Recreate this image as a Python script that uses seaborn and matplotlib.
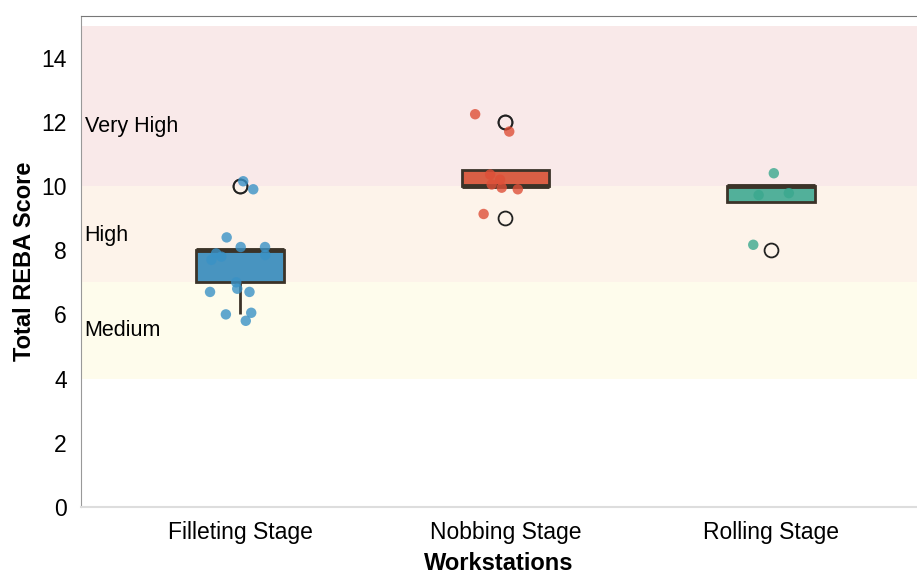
import numpy as np
import pandas as pd
import seaborn as sns
import matplotlib.pyplot as plt

stages = ["Filleting Stage", "Nobbing Stage", "Rolling Stage"]
box_colors = ["#4894c0", "#d95f45", "#52b09a"]
dot_colors = ["#3a92c6", "#de4f38", "#3aa88e"]

# point positions (scores are integers, shown slightly spread)
filleting = [10.15, 9.9, 8.4, 8.1, 8.1, 7.85, 7.9, 7.8, 7.7, 7.0, 6.7, 6.8, 6.7, 6.0, 6.05, 5.8]
nobbing = [12.24, 11.7, 10.36, 10.2, 10.05, 9.9, 9.95, 9.13]
rolling = [10.4, 9.78, 9.72, 8.17]

bands = [(4, 7, "#fefcec", "Medium", 5.5), (7, 10, "#fdf3ea", "High", 8.45),
         (10, 15, "#f9e9e9", "Very High", 11.85)]

df = pd.DataFrame({
    "stage": [stages[0]] * len(filleting) + [stages[1]] * len(nobbing) + [stages[2]] * len(rolling),
    "shown": filleting + nobbing + rolling,
})
df["score"] = df["shown"].round()

plt.rcParams["font.family"] = ["Liberation Sans", "DejaVu Sans"]
fig, ax = plt.subplots(figsize=(9.17, 5.74), dpi=100)

for lo, hi, c, name, ty in bands:
    ax.axhspan(lo, hi, color=c, lw=0, zorder=0)
    ax.text(-0.585, ty, name, fontsize=15.5, va="center", ha="left", zorder=1)

edge = "#3b3328"
sns.boxplot(data=df, x="stage", y="score", hue="stage", palette=box_colors, order=stages,
            width=0.33, linewidth=2, linecolor=edge, legend=False, saturation=1,
            showcaps=False,
            flierprops=dict(marker="o", markersize=10, markerfacecolor="none",
                            markeredgecolor="#222222", markeredgewidth=1.3),
            medianprops=dict(color=edge, linewidth=3.5), ax=ax)
np.random.seed(3)
sns.stripplot(data=df, x="stage", y="shown", hue="stage", palette=dot_colors, order=stages,
              jitter=0.12, size=7.5, alpha=0.8, linewidth=0, legend=False, ax=ax, zorder=4)

ax.set_xlim(-0.6, 2.55)
ax.set_ylim(0, 15.3)
ax.set_yticks(range(0, 15, 2))
ax.tick_params(axis="both", length=0, labelsize=16.5)
ax.tick_params(axis="x", pad=10)
ax.tick_params(axis="y", pad=10)
ax.set_xlabel("Workstations", fontsize=17, fontweight="bold", labelpad=6)
ax.set_ylabel("Total REBA Score", fontsize=17, fontweight="bold", labelpad=4)
ax.spines["right"].set_visible(False)
ax.spines["top"].set_color("#777777")
ax.spines["left"].set_color("#999999")
ax.spines["bottom"].set_color("#dddddd")
ax.spines["bottom"].set_linewidth(1.5)

fig.subplots_adjust(left=0.088, right=1.0, top=0.972, bottom=0.117)
fig.savefig("out.png", dpi=100)
